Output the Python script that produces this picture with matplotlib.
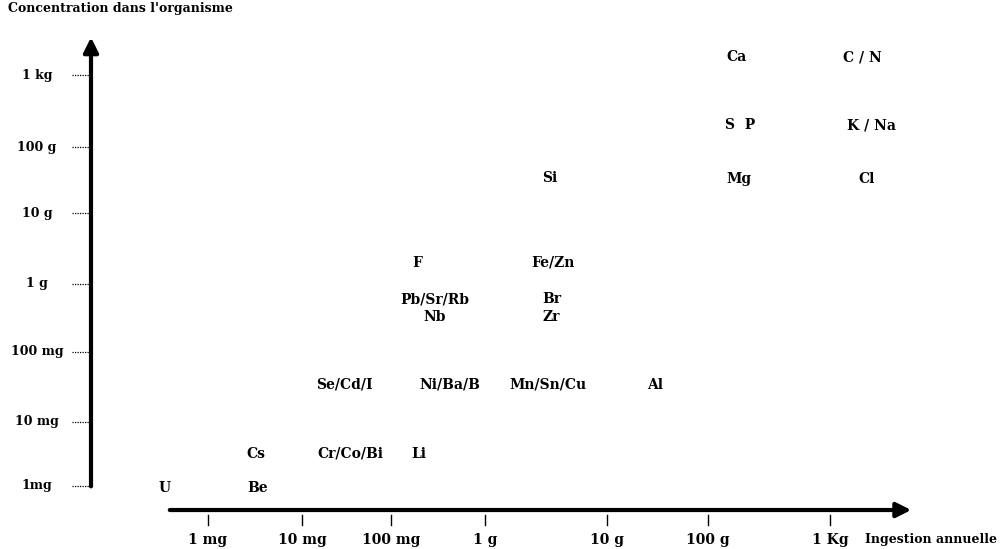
import numpy as np
import matplotlib.pyplot as plt

# Ingestion annuelle (g) et concentration dans l'organisme (g) par élément
elements = ['Ca', 'C / N', 'S  P', 'K / Na', 'Si', 'Mg', 'Cl',
            'F', 'Fe/Zn', 'Pb/Sr/Rb', 'Br', 'Nb', 'Zr',
            'Se/Cd/I', 'Ni/Ba/B', 'Mn/Sn/Cu', 'Al',
            'Cs', 'Cr/Co/Bi', 'Li', 'U', 'Be']
ingestion = [170, 1900, 185, 2300, 3.4, 180, 2100,
             0.19, 3.6, 0.29, 3.5, 0.29, 3.5,
             0.03, 0.42, 3.3, 30,
             0.0032, 0.035, 0.2, 0.00037, 0.0034]
concentration = [1800, 1800, 200, 200, 34, 33, 33,
                 2, 2, 0.6, 0.6, 0.33, 0.33,
                 0.034, 0.034, 0.034, 0.034,
                 0.0032, 0.0032, 0.0032, 0.00093, 0.00093]

x_ticks = [0.001, 0.01, 0.1, 1, 10, 100, 1000]
x_ticklabels = ['1 mg', '10 mg', '100 mg', '1 g', '10 g', '100 g', '1 Kg']
y_ticks = [0.001, 0.01, 0.1, 1, 10, 100, 1000]
y_ticklabels = ['1mg', '10 mg', '100 mg', '1 g', '10 g', '100 g', '1 kg']

# hand-drawn axes: decades are not evenly spaced, so use a piecewise log scale
x_dec = [-6, -3, -2, -1, 0, 1, 2, 3, 6]
x_pix = [-92, 208, 302, 391, 485, 607, 708, 830, 1175]
y_dec = [-6, -3, -2, -1, 0, 1, 2, 3, 6]
y_pix = [-138, 63, 127, 197, 265, 336, 402, 474, 684]


def make_scale(dec, pix):
    def fwd(v):
        with np.errstate(divide='ignore', invalid='ignore'):
            return np.interp(np.log10(np.maximum(v, 1e-12)), dec, pix)

    def inv(p):
        return 10 ** np.interp(p, pix, dec)
    return fwd, inv


fx, ix = make_scale(x_dec, x_pix)
fy, iy = make_scale(y_dec, y_pix)

fig = plt.figure(figsize=(10, 5.49), dpi=100)
ax = fig.add_axes([0, 0, 1, 1])
ax.set_xscale('function', functions=(fx, ix))
ax.set_yscale('function', functions=(fy, iy))
ax.set_xlim(ix(0), ix(1000))
ax.set_ylim(iy(0), iy(549))
ax.axis('off')

font = dict(family='DejaVu Serif', fontweight='bold', color='black')

# axes drawn as arrows
arrow = dict(arrowstyle='-|>', lw=3, color='black', mutation_scale=22)
ax.annotate('', xy=(0.091, 0.937), xytext=(0.091, 0.109),
            xycoords='axes fraction', arrowprops=arrow)
ax.annotate('', xy=(0.914, 0.071), xytext=(0.167, 0.071),
            xycoords='axes fraction', arrowprops=arrow)

# x ticks
xt = ax.get_xaxis_transform()
for t, lab in zip(x_ticks, x_ticklabels):
    ax.plot([t, t], [0.062, 0.044], transform=xt, color='black', lw=1)
    ax.text(t, 0.017, lab, transform=xt, ha='center', va='center',
            fontsize=10, **font)
ax.text(0.865, 0.017, 'Ingestion annuelle', transform=ax.transAxes,
        ha='left', va='center', fontsize=9, **font)

# y ticks (dotted leaders)
yt = ax.get_yaxis_transform()
for t, lab in zip(y_ticks, y_ticklabels):
    ax.plot([0.072, 0.089], [t, t], transform=yt, color='black', lw=0.9,
            linestyle=(0, (1, 1)))
    ax.text(0.037, t, lab, transform=yt, ha='center', va='center',
            fontsize=9, **font)

ax.text(0.008, 0.985, "Concentration dans l'organisme", transform=ax.transAxes,
        ha='left', va='center', fontsize=9, **font)

# element labels
for name, xi, ci in zip(elements, ingestion, concentration):
    ax.text(xi, ci, name, ha='center', va='center', fontsize=10, **font)

fig.savefig('out.png', dpi=100)
